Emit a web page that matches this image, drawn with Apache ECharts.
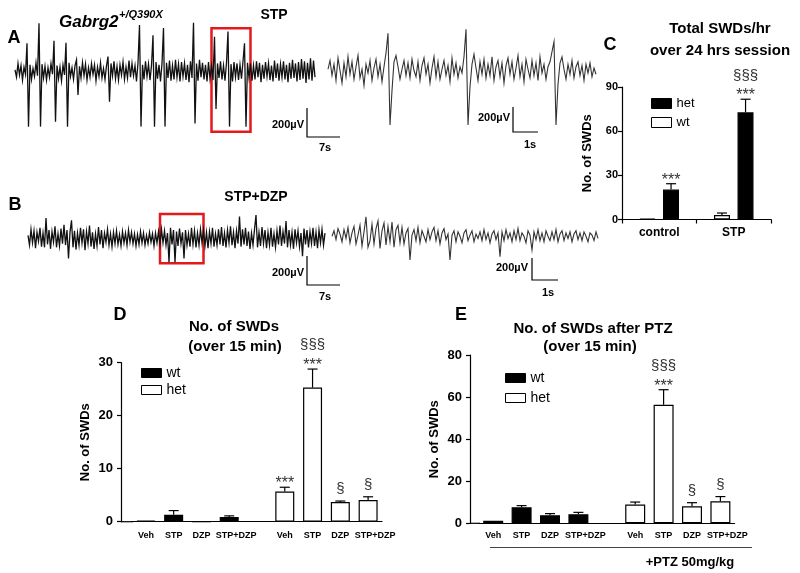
<!DOCTYPE html>
<html><head><meta charset="utf-8">
<script src="https://cdn.jsdelivr.net/npm/echarts@6.0.0/dist/echarts.min.js"></script>
<style>html,body{margin:0;padding:0;background:#fff}#c{width:800px;height:573px}</style>
</head><body><div id="c"></div>
<script>
// ---------- EEG traces (µV) ----------
const traceA = [10,-40,55,-25,40,-60,30,-20,194,-382,
45,-55,20,-35,60,-30,333,-382,50,-45,
35,-60,25,-40,55,-20,212,-348,40,-50,
30,-65,45,-25,198,-382,60,-35,25,-55,
40,80,-163,35,-45,60,-30,50,-60,25,
-40,55,-20,45,-65,30,-35,60,-45,20,
-55,40,102,-210,55,-30,70,-50,35,-60,
45,-25,65,-55,30,-45,75,-40,55,-30,
40,-70,60,321,-382,45,-55,70,-35,50,
-60,40,250,-382,65,-50,45,-70,55,300,
-382,60,-45,75,-65,40,-55,80,-40,50,
-70,65,-35,55,-60,45,-75,70,-45,337,
-360,55,-65,80,-40,60,-55,45,-70,65,
-50,40,-60,240,-260,55,-45,70,-55,40,
-65,60,275,-382,50,-70,65,-40,55,-60,
45,-50,70,194,-382,60,-45,55,-65,40,
-55,70,-40,60,-75,45,-50,65,-35,55,
-60,40,-70,75,-45,55,-65,50,-40,70,
-55,45,-75,60,-50,80,-45,55,-70,65,
-60,85,-50,70,-80,60,-55,90,-65,75,
-40];
const traceAZoom = [20,90,-30,60,-70,110,10,-90,70,-40,
120,-20,80,-60,40,130,-50,20,-110,60,
-10,90,-70,30,100,-40,60,-80,40,150,
307,-426,-150,80,130,40,-60,20,90,-30,
70,-50,100,10,-40,80,-70,50,110,-20,
60,-90,30,120,-40,80,-60,20,90,-30,
50,-80,110,-20,70,-50,40,-10,120,339,
-426,-120,60,140,30,-70,80,-20,100,-50,
60,-30,120,-70,40,90,-40,70,-90,50,
110,-20,80,-60,30,130,-40,60,-80,100,
20,-50,90,-30,70,-70,120,-10,60,-60,
40,80,160,240,-426,-100,70,120,20,-60,
60,-20,90,-50,40,80,-30,50,-70,60,
-10,70,-40,30,-20];
const traceB = [20,-45,60,-30,50,-65,40,-20,70,-55,
35,-60,135,-40,55,-70,45,-25,80,-60,
30,-50,65,-35,90,-45,55,-135,40,120,
-60,50,-75,35,-45,70,-30,60,-80,45,
-35,85,-55,40,-70,30,-50,75,-40,55,
-65,35,-25,60,-45,30,-55,40,-35,50,
-40,25,-50,45,-30,35,-45,55,-25,40,
-35,30,-50,25,-40,45,-30,35,-45,20,
-35,40,-25,30,-50,35,-30,45,-40,60,
-30,50,-45,35,-160,70,-40,55,-160,45,
-50,65,-35,40,-135,55,-45,30,-55,70,
-40,50,-60,35,-45,60,-30,55,-50,40,
-65,45,-35,70,-55,30,-45,60,-40,75,
-50,35,-60,55,-30,80,-45,40,-65,50,
-35,145,-55,60,-40,70,-50,45,-70,35,
-45,60,155,-60,40,-50,75,-35,55,-65,
40,-45,70,-55,30,-60,50,-40,85,-50,
45,-35,115,-60,55,-45,40,-70,60,-30,
50,-55,35,-120,65,-40,55,-60,45,-35,
70,-50,40,-65,55,-30,60,-45,35];
const traceBZoom = [10,60,-20,80,30,-40,70,-10,90,-50,
40,100,-60,20,110,-80,50,187,-90,-30,
120,-60,80,150,-100,60,130,-70,100,-40,
140,-90,70,110,-50,90,-60,40,80,-206,
20,70,-30,90,-50,60,10,-40,70,-20,
50,90,-30,60,-60,40,80,-20,30,-206,
20,60,-40,50,10,-50,40,70,-30,20,
60,-40,30,-10,50,-30,70,-20,40,-50,
30,60,-20,40,-176,50,-30,70,-10,40,
-40,60,-20,80,-30,40,10,-50,60,20,
-115,50,-20,70,-30,40,-40,60,10,-30,
50,-20,70,-40,30,60,-30,40,-10,50,
-40,30,60,-20,40,-30,50,10,-40,40,
20,-30,50,-10];

// ---------- Panel C ----------
const cCats = ['control', 'STP'];
const cWt = [0.5, 3.0];
const cWtErr = [0, 1.4];
const cHet = [20.3, 72.8];
const cHetErr = [4.0, 8.9];
const cWtSig = ['', ''];
const cHetSig = ['***', '§§§\n***'];

// ---------- Panel D ----------
const dCats = ['Veh', 'STP', 'DZP', 'STP+DZP', '', 'Veh', 'STP', 'DZP', 'STP+DZP'];
const dWt = [0.2, 1.3, 0, 0.9, '-', '-', '-', '-', '-'];
const dWtErr = [0, 0.8, 0, 0.2, 0, 0, 0, 0, 0];
const dHet = ['-', '-', '-', '-', '-', 5.7, 25.3, 3.7, 4.1];
const dHetErr = [0, 0, 0, 0, 0, 0.8, 3.5, 0.2, 0.6];
const dHetSig = ['', '', '', '', '', '***', '§§§\n***', '§', '§'];

// ---------- Panel E ----------
const eCats = ['Veh', 'STP', 'DZP', 'STP+DZP', '', 'Veh', 'STP', 'DZP', 'STP+DZP'];
const eWt = [1.2, 7.6, 3.8, 4.3, '-', '-', '-', '-', '-'];
const eWtErr = [0, 0.8, 0.8, 0.9, 0, 0, 0, 0, 0];
const eHet = ['-', '-', '-', '-', '-', 8.9, 56.3, 8.1, 10.5];
const eHetErr = [0, 0, 0, 0, 0, 1.2, 7.2, 1.7, 2.2];
const eHetSig = ['', '', '', '', '', '', '§§§\n***', '§', '§'];

const FONT = '"Liberation Sans", Arial, sans-serif';
const chart = echarts.init(document.getElementById('c'), null, {renderer: 'canvas'});

function traceX(g, arr) {
  return {gridIndex: g, type: 'category', boundaryGap: false, show: false, data: arr.map((_, i) => i)};
}
function traceY(g, min, max) {
  return {gridIndex: g, type: 'value', show: false, min: min, max: max, splitLine: {show: false}};
}
function traceSeries(g, arr, color, width, box) {
  const s = {type: 'line', xAxisIndex: g, yAxisIndex: g, data: arr, showSymbol: false, symbol: 'none',
    lineStyle: {color: color, width: width, join: 'miter'}, silent: true, z: 2};
  if (box) {
    s.markArea = {silent: true, itemStyle: {color: 'rgba(0,0,0,0)', borderColor: '#e3191e', borderWidth: 2.5},
      data: [[{xAxis: box[0], yAxis: box[2]}, {xAxis: box[1], yAxis: box[3]}]]};
  }
  return s;
}
function barX(g, data, fs, margin, tick, shiftLong) {
  const label = {interval: 0, fontFamily: FONT, fontWeight: 'bold', fontSize: fs, color: '#000', margin: margin};
  if (shiftLong) {
    label.formatter = function (v) { return v.length > 5 ? '{s|' + v + '}' : v; };
    label.rich = {s: {fontFamily: FONT, fontWeight: 'bold', fontSize: fs, color: '#000', padding: [0, 0, 0, 14]}};
  }
  return {gridIndex: g, type: 'category', data: data,
    axisLine: {show: true, lineStyle: {color: '#000', width: 1.2}},
    axisTick: {show: tick, length: 4, lineStyle: {color: '#000', width: 1.2}},
    axisLabel: label};
}
function barY(g, max, interval, offset, fs, margin, nameGap) {
  return {gridIndex: g, type: 'value', min: 0, max: max, interval: interval, offset: offset,
    name: 'No. of SWDs', nameLocation: 'middle', nameGap: nameGap,
    nameTextStyle: {fontFamily: FONT, fontWeight: 'bold', fontSize: 13, color: '#000'},
    axisLine: {show: true, lineStyle: {color: '#000', width: 1.2}},
    axisTick: {show: true, length: 4, lineStyle: {color: '#000', width: 1.2}},
    axisLabel: {fontFamily: FONT, fontWeight: 'bold', fontSize: fs, color: '#000', margin: margin},
    splitLine: {show: false}};
}
function barSeries(g, name, data, fill, width, gap) {
  return {type: 'bar', name: name, xAxisIndex: g, yAxisIndex: g, data: data, barWidth: width, barGap: gap,
    itemStyle: {color: fill, borderColor: '#000', borderWidth: 1.2}, silent: true, z: 3};
}
function errSeries(g, means, errs, sigs, offset) {
  return {
    type: 'custom', xAxisIndex: g, yAxisIndex: g, silent: true, z: 5,
    data: means.map((m, i) => [i, m === '-' ? 0 : m, errs[i]]),
    renderItem: function (params, api) {
      const i = api.value(0), m = api.value(1), e = api.value(2);
      const sig = sigs[params.dataIndex] || '';
      const base = api.coord([i, m]);
      const top = api.coord([i, m + e]);
      const x = base[0] + offset;
      const ch = [];
      if (e > 0) {
        ch.push({type: 'line', shape: {x1: x, y1: base[1], x2: x, y2: top[1]}, style: {stroke: '#000', lineWidth: 1.2}});
        ch.push({type: 'line', shape: {x1: x - 5, y1: top[1], x2: x + 5, y2: top[1]}, style: {stroke: '#000', lineWidth: 1.2}});
      }
      if (sig) {
        const lines = sig.split('\n').reverse();
        let cur = top[1];
        lines.forEach(function (ln, k) {
          const star = ln.indexOf('*') >= 0;
          const vis = cur - (k === 0 ? (star ? 7 : 10.5) : 15.5);
          ch.push({type: 'text', style: {text: ln, x: x, y: vis + (star ? 3.7 : -1.3),
            align: 'center', verticalAlign: 'middle', textAlign: 'center', textVerticalAlign: 'middle',
            fontSize: star ? 16 : 15, fontFamily: FONT, fill: '#333'}});
          cur = vis;
        });
      }
      return {type: 'group', children: ch};
    }
  };
}
function txt(x, y, text, font, align) {
  return {type: 'text', x: x, y: y, silent: true,
    style: {text: text, font: font, fill: '#000', align: align || 'center', verticalAlign: 'middle',
      textAlign: align || 'center', textVerticalAlign: 'middle'}};
}
function pl(points, color, w) {
  return {type: 'polyline', silent: true, shape: {points: points}, style: {stroke: color || '#000', lineWidth: w || 1.2, fill: null}};
}
const B18 = 'bold 18px ' + FONT, B15 = 'bold 15px ' + FONT, B14 = 'bold 14px ' + FONT, B11 = 'bold 11px ' + FONT;

const legendItems = function (first, firstFill, second, secondFill) {
  return [
    {name: first, icon: 'rect', itemStyle: {color: firstFill, borderColor: '#000', borderWidth: 1}},
    {name: second, icon: 'rect', itemStyle: {color: secondFill, borderColor: '#000', borderWidth: 1}}
  ];
};

const option = {
  animation: false,
  textStyle: {fontFamily: FONT},
  grid: [
    {left: 15, top: 15, width: (traceA.length - 1) * 1.5, height: 120},
    {left: 328, top: 15, width: (traceAZoom.length - 1) * 2, height: 120},
    {left: 28, top: 195, width: (traceB.length - 1) * 1.5, height: 100},
    {left: 332, top: 195, width: (traceBZoom.length - 1) * 2, height: 100},
    {left: 622, top: 87, width: 149, height: 132.5},
    {left: 132, top: 362.7, width: 250, height: 159},
    {left: 479, top: 355, width: 255.6, height: 168.3}
  ],
  xAxis: [
    traceX(0, traceA), traceX(1, traceAZoom), traceX(2, traceB), traceX(3, traceBZoom),
    barX(4, cCats, 12, 7, true, false), barX(5, dCats, 9, 9, false, true), barX(6, eCats, 9, 8, false, true)
  ],
  yAxis: [
    traceY(0, -440, 390), traceY(1, -506, 454), traceY(2, -378, 289), traceY(3, -524, 385),
    barY(4, 90, 30, 0, 11, 4, 28), barY(5, 30, 10, 11, 13, 8, 29), barY(6, 80, 20, 9, 13, 8, 29)
  ],
  legend: [
    {left: 646, top: 92, orient: 'vertical', itemWidth: 20, itemHeight: 10, itemGap: 6, selectedMode: false,
      textStyle: {fontFamily: FONT, fontSize: 13, color: '#000'}, data: legendItems('het', '#000', 'wt', '#fff')},
    {left: 136, top: 361, orient: 'vertical', itemWidth: 20, itemHeight: 9, itemGap: 3, selectedMode: false,
      textStyle: {fontFamily: FONT, fontSize: 14, color: '#000'}, data: legendItems('wt', '#000', 'het', '#fff')},
    {left: 500, top: 366, orient: 'vertical', itemWidth: 20, itemHeight: 9, itemGap: 6, selectedMode: false,
      textStyle: {fontFamily: FONT, fontSize: 14, color: '#000'}, data: legendItems('wt', '#000', 'het', '#fff')}
  ],
  series: [
    traceSeries(0, traceA, '#111', 1.3, [130.5, 156.7, 298, -417]),
    traceSeries(1, traceAZoom, '#333', 1.1),
    traceSeries(2, traceB, '#111', 1.3, [87.5, 116.9, 162, -167]),
    traceSeries(3, traceBZoom, '#333', 1.1),
    barSeries(4, 'wt', cWt, '#fff', 16, '47%'),
    barSeries(4, 'het', cHet, '#000', 16, '47%'),
    errSeries(4, cWt, cWtErr, cWtSig, -11.8),
    errSeries(4, cHet, cHetErr, cHetSig, 11.8),
    barSeries(5, 'wt', dWt, '#000', 19, '-100%'),
    barSeries(5, 'het', dHet, '#fff', 19, '-100%'),
    errSeries(5, dWt, dWtErr, [], 0),
    errSeries(5, dHet, dHetErr, dHetSig, 0),
    barSeries(6, 'wt', eWt, '#000', 20, '-100%'),
    barSeries(6, 'het', eHet, '#fff', 20, '-100%'),
    errSeries(6, eWt, eWtErr, [], 0),
    errSeries(6, eHet, eHetErr, eHetSig, 0)
  ],
  graphic: {elements: [
    txt(14, 38, 'A', B18),
    txt(59, 22, 'Gabrg2', 'italic bold 17px ' + FONT, 'left'),
    txt(119, 15, '+/Q390X', 'italic bold 11px ' + FONT, 'left'),
    txt(274, 15, 'STP', B14),
    txt(15, 205, 'B', B18),
    txt(256, 197, 'STP+DZP', B14),
    pl([[307, 108], [307, 137], [340, 137]]),
    txt(304, 125, '200µV', B11, 'right'),
    txt(325, 148, '7s', B11),
    pl([[513, 107], [513, 132], [538, 132]]),
    txt(510, 118, '200µV', B11, 'right'),
    txt(530, 145, '1s', B11),
    pl([[307, 256], [307, 285], [340, 285]]),
    txt(304, 273, '200µV', B11, 'right'),
    txt(325, 297, '7s', B11),
    pl([[532, 258], [532, 280], [558, 280]]),
    txt(528, 268, '200µV', B11, 'right'),
    txt(548, 293, '1s', B11),
    txt(610, 45, 'C', B18),
    txt(720, 29, 'Total SWDs/hr', B15),
    txt(720, 51, 'over 24 hrs session', B15),
    txt(120, 315, 'D', B18),
    txt(234, 327, 'No. of SWDs', B15),
    txt(235, 347, '(over 15 min)', B15),
    pl([[121, 521.7], [133, 521.7]]),
    txt(461, 315, 'E', B18),
    txt(593, 329, 'No. of SWDs after PTZ', B15),
    txt(590, 347, '(over 15 min)', B15),
    pl([[470, 523.3], [480, 523.3]]),
    pl([[490, 547.5], [752, 547.5]], '#444', 1),
    txt(690, 562, '+PTZ 50mg/kg', 'bold 13px ' + FONT)
  ]}
};
chart.setOption(option);
</script>
</body></html>
